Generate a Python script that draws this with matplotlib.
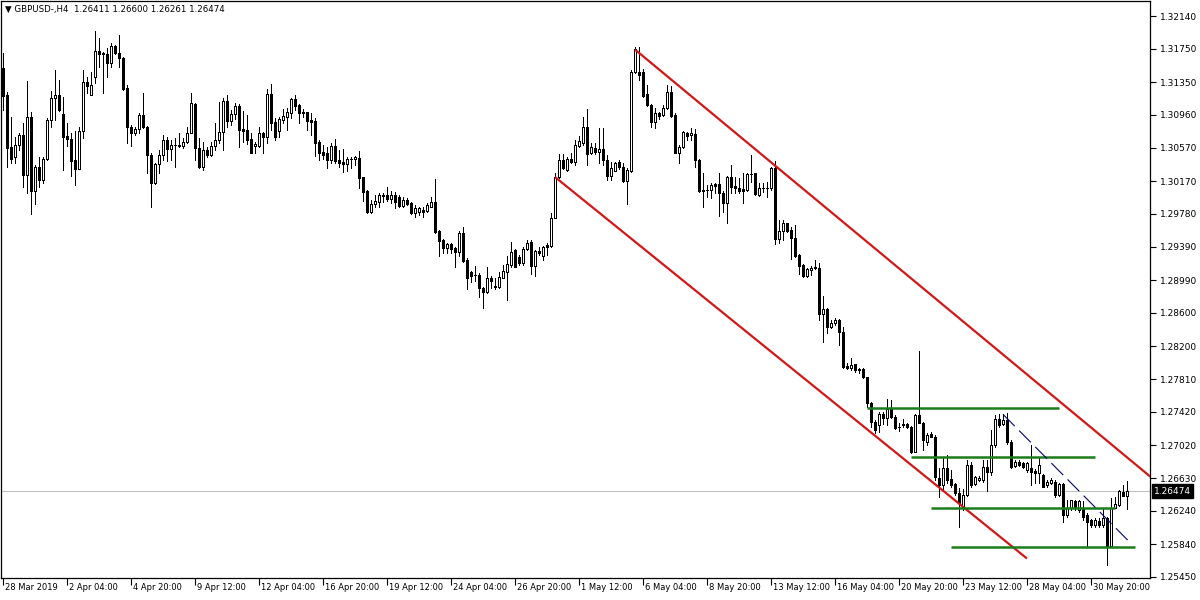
import matplotlib
matplotlib.use('Agg')
import matplotlib.pyplot as plt
import numpy as np
from matplotlib.transforms import blended_transform_factory, ScaledTranslation

plt.rcParams['font.family'] = ['DejaVu Sans']
plt.rcParams['lines.scale_dashes'] = False

title_text = "\u25BC GBPUSD-,H4  1.26411 1.26600 1.26261 1.26474"

opens = [1.3152, 1.3120, 1.3058, 1.3046, 1.3060, 1.3072, 1.3024, 1.3094, 1.3005, 1.3034,
         1.3018, 1.3043, 1.3090, 1.3116, 1.3120, 1.3097, 1.3071, 1.3067, 1.3042, 1.3032,
         1.3077, 1.3135, 1.3120, 1.3141, 1.3172, 1.3170, 1.3169, 1.3158, 1.3178, 1.3170,
         1.3164, 1.3128, 1.3082, 1.3074, 1.3079, 1.3096, 1.3082, 1.3048, 1.3015, 1.3037,
         1.3048, 1.3066, 1.3055, 1.3060, 1.3060, 1.3059, 1.3064, 1.3074, 1.3109, 1.3057,
         1.3034, 1.3054, 1.3048, 1.3059, 1.3066, 1.3076, 1.3113, 1.3089, 1.3097, 1.3107,
         1.3079, 1.3078, 1.3067, 1.3059, 1.3059, 1.3074, 1.3070, 1.3121, 1.3088, 1.3077,
         1.3090, 1.3094, 1.3098, 1.3115, 1.3108, 1.3099, 1.3099, 1.3090, 1.3089, 1.3064,
         1.3052, 1.3051, 1.3042, 1.3059, 1.3042, 1.3040, 1.3037, 1.3043, 1.3043, 1.3045,
         1.3022, 1.3005, 1.2980, 1.2990, 1.2992, 1.3001, 1.3001, 1.2996, 1.3001, 1.2998,
         1.2987, 1.2995, 1.2991, 1.2979, 1.2980, 1.2983, 1.2981, 1.2986, 1.2992, 1.2958,
         1.2947, 1.2937, 1.2942, 1.2937, 1.2933, 1.2955, 1.2923, 1.2909, 1.2905, 1.2905,
         1.2890, 1.2885, 1.2902, 1.2892, 1.2891, 1.2902, 1.2909, 1.2917, 1.2935, 1.2927,
         1.2920, 1.2936, 1.2945, 1.2916, 1.2934, 1.2928, 1.2941, 1.2940, 1.2973, 1.3022,
         1.3042, 1.3030, 1.3043, 1.3040, 1.3059, 1.3063, 1.3082, 1.3051, 1.3057, 1.3052,
         1.3055, 1.3042, 1.3023, 1.3029, 1.3040, 1.3034, 1.3017, 1.3029, 1.3147, 1.3147,
         1.3147, 1.3121, 1.3108, 1.3088, 1.3098, 1.3096, 1.3104, 1.3123, 1.3096, 1.3051,
         1.3058, 1.3074, 1.3072, 1.3073, 1.3042, 1.3007, 1.3007, 1.3007, 1.3014, 1.3014,
         1.3003, 1.2991, 1.3022, 1.3011, 1.3009, 1.3008, 1.3007, 1.3026, 1.3027, 1.3001,
         1.3009, 1.3009, 1.3009, 1.3033, 1.2948, 1.2958, 1.2967, 1.2959, 1.2949, 1.2929,
         1.2917, 1.2904, 1.2911, 1.2915, 1.2914, 1.2859, 1.2865, 1.2843, 1.2848, 1.2852,
         1.2837, 1.2797, 1.2794, 1.2799, 1.2792, 1.2793, 1.2784, 1.2753, 1.2730, 1.2726,
         1.2739, 1.2735, 1.2745, 1.2736, 1.2724, 1.2726, 1.2727, 1.2724, 1.2694, 1.2738,
         1.2729, 1.2706, 1.2716, 1.2712, 1.2663, 1.2655, 1.2675, 1.2662, 1.2656, 1.2645,
         1.2627, 1.2643, 1.2679, 1.2656, 1.2661, 1.2661, 1.2676, 1.2670, 1.2702, 1.2733,
         1.2727, 1.2732, 1.2706, 1.2677, 1.2682, 1.2681, 1.2673, 1.2675, 1.2671, 1.2669,
         1.2667, 1.2655, 1.2657, 1.2658, 1.2643, 1.2656, 1.2619, 1.2627, 1.2636, 1.2625,
         1.2627, 1.2619, 1.2613, 1.2607, 1.2612, 1.2607, 1.2615, 1.2582, 1.2627, 1.2631,
         1.2646, 1.26411]

highs = [1.3170, 1.3123, 1.3094, 1.3070, 1.3074, 1.3086, 1.3137, 1.3099, 1.3036, 1.3046,
         1.3046, 1.3092, 1.3125, 1.3150, 1.3138, 1.3117, 1.3086, 1.3074, 1.3077, 1.3082,
         1.3150, 1.3141, 1.3147, 1.3196, 1.3188, 1.3171, 1.3176, 1.3182, 1.3179, 1.3191,
         1.3165, 1.3132, 1.3084, 1.3082, 1.3098, 1.3122, 1.3083, 1.3051, 1.3039, 1.3054,
         1.3072, 1.3070, 1.3066, 1.3068, 1.3074, 1.3068, 1.3082, 1.3122, 1.3110, 1.3068,
         1.3064, 1.3058, 1.3064, 1.3086, 1.3111, 1.3116, 1.3120, 1.3102, 1.3110, 1.3109,
         1.3101, 1.3096, 1.3074, 1.3064, 1.3082, 1.3076, 1.3127, 1.3133, 1.3092, 1.3094,
         1.3103, 1.3104, 1.3116, 1.3120, 1.3109, 1.3103, 1.3099, 1.3098, 1.3092, 1.3066,
         1.3060, 1.3058, 1.3063, 1.3067, 1.3054, 1.3055, 1.3046, 1.3046, 1.3047, 1.3053,
         1.3022, 1.3007, 1.2995, 1.3001, 1.3003, 1.3003, 1.3010, 1.3005, 1.3004, 1.3001,
         1.2998, 1.2997, 1.2992, 1.2989, 1.2986, 1.2986, 1.2991, 1.2998, 1.3020, 1.2959,
         1.2948, 1.2943, 1.2943, 1.2939, 1.2958, 1.2962, 1.2925, 1.2910, 1.2916, 1.2908,
         1.2891, 1.2915, 1.2904, 1.2902, 1.2909, 1.2917, 1.2928, 1.2945, 1.2936, 1.2929,
         1.2939, 1.2947, 1.2947, 1.2935, 1.2939, 1.2940, 1.2943, 1.2979, 1.3027, 1.3049,
         1.3049, 1.3046, 1.3051, 1.3066, 1.3071, 1.3094, 1.3103, 1.3063, 1.3063, 1.3080,
         1.3080, 1.3048, 1.3040, 1.3040, 1.3042, 1.3039, 1.3033, 1.3150, 1.3177, 1.3177,
         1.3151, 1.3132, 1.3109, 1.3104, 1.3099, 1.3108, 1.3132, 1.3130, 1.3098, 1.3060,
         1.3077, 1.3076, 1.3080, 1.3079, 1.3043, 1.3027, 1.3013, 1.3015, 1.3015, 1.3027,
         1.3005, 1.3023, 1.3036, 1.3022, 1.3021, 1.3027, 1.3027, 1.3048, 1.3027, 1.3015,
         1.3015, 1.3016, 1.3034, 1.3041, 1.2971, 1.2971, 1.2967, 1.2962, 1.2965, 1.2930,
         1.2918, 1.2914, 1.2916, 1.2923, 1.2920, 1.2880, 1.2866, 1.2852, 1.2854, 1.2853,
         1.2843, 1.2800, 1.2806, 1.2799, 1.2794, 1.2794, 1.2784, 1.2754, 1.2732, 1.2742,
         1.2742, 1.2757, 1.2756, 1.2738, 1.2729, 1.2733, 1.2729, 1.2725, 1.2739, 1.2815,
         1.2730, 1.2717, 1.2718, 1.2714, 1.2675, 1.2687, 1.2690, 1.2673, 1.2657, 1.2651,
         1.2650, 1.2685, 1.2682, 1.2665, 1.2665, 1.2685, 1.2685, 1.2720, 1.2738, 1.2739,
         1.2739, 1.2741, 1.2708, 1.2685, 1.2685, 1.2682, 1.2682, 1.2702, 1.2674, 1.2688,
         1.2668, 1.2661, 1.2663, 1.2661, 1.2657, 1.2657, 1.2637, 1.2637, 1.2637, 1.2637,
         1.2636, 1.2621, 1.2614, 1.2615, 1.2615, 1.2627, 1.2617, 1.2639, 1.2640, 1.2649,
         1.2655, 1.26600]

lows = [1.3102, 1.3034, 1.3039, 1.3039, 1.3054, 1.3010, 1.3003, 1.2978, 1.2990, 1.3010,
        1.3015, 1.3042, 1.3082, 1.3090, 1.3101, 1.3030, 1.3059, 1.3023, 1.3013, 1.3032,
        1.3068, 1.3122, 1.3120, 1.3134, 1.3153, 1.3122, 1.3141, 1.3153, 1.3169, 1.3153,
        1.3126, 1.3063, 1.3059, 1.3072, 1.3074, 1.3080, 1.3027, 1.2986, 1.3014, 1.3027,
        1.3042, 1.3041, 1.3042, 1.3034, 1.3058, 1.3057, 1.3063, 1.3074, 1.3042, 1.3033,
        1.3030, 1.3046, 1.3047, 1.3054, 1.3063, 1.3054, 1.3082, 1.3084, 1.3091, 1.3058,
        1.3064, 1.3061, 1.3051, 1.3051, 1.3058, 1.3051, 1.3063, 1.3078, 1.3066, 1.3070,
        1.3086, 1.3078, 1.3092, 1.3102, 1.3086, 1.3094, 1.3078, 1.3072, 1.3047, 1.3042,
        1.3043, 1.3033, 1.3039, 1.3039, 1.3034, 1.3028, 1.3029, 1.3033, 1.3036, 1.3009,
        1.2993, 1.2979, 1.2979, 1.2986, 1.2986, 1.2992, 1.2993, 1.2991, 1.2985, 1.2986,
        1.2986, 1.2989, 1.2978, 1.2974, 1.2977, 1.2974, 1.2980, 1.2986, 1.2955, 1.2928,
        1.2931, 1.2931, 1.2931, 1.2915, 1.2928, 1.2921, 1.2888, 1.2897, 1.2898, 1.2879,
        1.2866, 1.2884, 1.2890, 1.2888, 1.2890, 1.2902, 1.2875, 1.2915, 1.2915, 1.2917,
        1.2917, 1.2935, 1.2906, 1.2904, 1.2929, 1.2923, 1.2929, 1.2939, 1.2973, 1.3021,
        1.3032, 1.3029, 1.3039, 1.3036, 1.3058, 1.3060, 1.3036, 1.3049, 1.3049, 1.3039,
        1.3036, 1.3018, 1.3018, 1.3029, 1.3032, 1.3016, 1.2990, 1.3028, 1.3146, 1.3138,
        1.3117, 1.3107, 1.3082, 1.3080, 1.3091, 1.3095, 1.3103, 1.3094, 1.3051, 1.3039,
        1.3057, 1.3066, 1.3066, 1.3034, 1.3004, 1.2986, 1.2998, 1.2997, 1.3003, 1.2976,
        1.2980, 1.2967, 1.3003, 1.3003, 1.3003, 1.2991, 1.3005, 1.3016, 1.3001, 1.2999,
        1.3004, 1.2998, 1.3007, 1.2942, 1.2943, 1.2947, 1.2956, 1.2924, 1.2927, 1.2906,
        1.2903, 1.2903, 1.2905, 1.2912, 1.2852, 1.2825, 1.2836, 1.2842, 1.2846, 1.2822,
        1.2794, 1.2793, 1.2792, 1.2790, 1.2788, 1.2782, 1.2748, 1.2724, 1.2717, 1.2718,
        1.2727, 1.2726, 1.2735, 1.2722, 1.2719, 1.2724, 1.2723, 1.2693, 1.2694, 1.2729,
        1.2697, 1.2702, 1.2712, 1.2661, 1.2640, 1.2649, 1.2657, 1.2652, 1.2643, 1.2605,
        1.2625, 1.2642, 1.2652, 1.2655, 1.2660, 1.2658, 1.2648, 1.2667, 1.2700, 1.2724,
        1.2726, 1.2704, 1.2675, 1.2676, 1.2677, 1.2675, 1.2670, 1.2655, 1.2657, 1.2657,
        1.2652, 1.2652, 1.2656, 1.2640, 1.2642, 1.2611, 1.2617, 1.2625, 1.2625, 1.2623,
        1.2613, 1.2581, 1.2605, 1.2605, 1.2605, 1.2605, 1.2559, 1.2581, 1.2627, 1.2630,
        1.2641, 1.26261]

closes = [1.3119, 1.3057, 1.3043, 1.3060, 1.3072, 1.3024, 1.3094, 1.3005, 1.3034, 1.3018,
          1.3043, 1.3090, 1.3116, 1.3120, 1.3102, 1.3070, 1.3067, 1.3041, 1.3032, 1.3077,
          1.3135, 1.3130, 1.3132, 1.3172, 1.3169, 1.3169, 1.3158, 1.3178, 1.3170, 1.3164,
          1.3127, 1.3082, 1.3074, 1.3079, 1.3096, 1.3082, 1.3048, 1.3015, 1.3037, 1.3048,
          1.3066, 1.3055, 1.3060, 1.3060, 1.3059, 1.3064, 1.3074, 1.3110, 1.3057, 1.3034,
          1.3054, 1.3048, 1.3059, 1.3066, 1.3076, 1.3113, 1.3089, 1.3097, 1.3107, 1.3078,
          1.3077, 1.3066, 1.3051, 1.3061, 1.3074, 1.3070, 1.3121, 1.3086, 1.3070, 1.3091,
          1.3095, 1.3099, 1.3115, 1.3107, 1.3098, 1.3098, 1.3089, 1.3088, 1.3063, 1.3051,
          1.3048, 1.3042, 1.3059, 1.3041, 1.3039, 1.3037, 1.3043, 1.3043, 1.3046, 1.3021,
          1.3004, 1.2980, 1.2990, 1.2993, 1.3001, 1.2999, 1.2996, 1.3001, 1.2992, 1.2987,
          1.2995, 1.2990, 1.2979, 1.2985, 1.2985, 1.2980, 1.2989, 1.2992, 1.2956, 1.2946,
          1.2937, 1.2942, 1.2936, 1.2933, 1.2955, 1.2922, 1.2902, 1.2904, 1.2905, 1.2890,
          1.2885, 1.2902, 1.2898, 1.2891, 1.2903, 1.2910, 1.2918, 1.2933, 1.2915, 1.2920,
          1.2936, 1.2943, 1.2916, 1.2934, 1.2931, 1.2939, 1.2939, 1.2973, 1.3022, 1.3042,
          1.3033, 1.3043, 1.3040, 1.3060, 1.3065, 1.3082, 1.3049, 1.3058, 1.3052, 1.3055,
          1.3042, 1.3023, 1.3033, 1.3039, 1.3034, 1.3017, 1.3030, 1.3147, 1.3175, 1.3144,
          1.3119, 1.3108, 1.3088, 1.3098, 1.3095, 1.3104, 1.3123, 1.3095, 1.3051, 1.3058,
          1.3076, 1.3071, 1.3074, 1.3042, 1.3005, 1.3005, 1.3007, 1.3013, 1.3011, 1.3003,
          1.2991, 1.3022, 1.3010, 1.3009, 1.3005, 1.3005, 1.3026, 1.3026, 1.3002, 1.3009,
          1.3009, 1.3009, 1.3033, 1.2948, 1.2958, 1.2967, 1.2958, 1.2949, 1.2928, 1.2916,
          1.2904, 1.2912, 1.2914, 1.2914, 1.2859, 1.2865, 1.2843, 1.2848, 1.2852, 1.2837,
          1.2795, 1.2794, 1.2798, 1.2792, 1.2793, 1.2784, 1.2753, 1.2730, 1.2720, 1.2739,
          1.2735, 1.2745, 1.2736, 1.2723, 1.2724, 1.2727, 1.2724, 1.2694, 1.2738, 1.2729,
          1.2708, 1.2714, 1.2712, 1.2664, 1.2655, 1.2675, 1.2661, 1.2655, 1.2645, 1.2633,
          1.2643, 1.2679, 1.2655, 1.2664, 1.2663, 1.2676, 1.2670, 1.2702, 1.2733, 1.2726,
          1.2732, 1.2706, 1.2676, 1.2682, 1.2679, 1.2676, 1.2681, 1.2670, 1.2669, 1.2679,
          1.2652, 1.2658, 1.2661, 1.2643, 1.2656, 1.2619, 1.2627, 1.2637, 1.2627, 1.2636,
          1.2617, 1.2611, 1.2607, 1.2613, 1.2607, 1.2615, 1.2582, 1.2627, 1.2632, 1.2648,
          1.2641, 1.26474]

bid_price = 1.26474

# time axis: one label every 16 H4 bars
time_labels = ["28 Mar 2019", "2 Apr 04:00", "4 Apr 20:00", "9 Apr 12:00", "12 Apr 04:00",
               "16 Apr 20:00", "19 Apr 12:00", "24 Apr 04:00", "26 Apr 20:00", "1 May 12:00",
               "6 May 04:00", "8 May 20:00", "13 May 12:00", "16 May 04:00", "20 May 20:00",
               "23 May 12:00", "28 May 04:00", "30 May 20:00"]
label_step = 16

price_ticks = [1.32140, 1.31750, 1.31350, 1.30960, 1.30570, 1.30170, 1.29780, 1.29390,
               1.28990, 1.28600, 1.28200, 1.27810, 1.27420, 1.27020, 1.26630, 1.26240,
               1.25840, 1.25450]

# analyst drawings (bar index, price)
channel_upper = [(158, 1.3174), (287, 1.2664)]
channel_lower = [(138, 1.3022), (256, 1.2567)]
levels = [(216, 264, 1.2747), (227, 273, 1.2688), (232, 278, 1.2627), (237, 283, 1.2581)]
dotted_trend = [(250, 1.2739), (282, 1.2585)]

# ---------------------------------------------------------------
fig = plt.figure(figsize=(12, 6), dpi=100)
fig.patch.set_facecolor('white')
ax = fig.add_axes([1 / 1200, 22 / 600, 1149 / 1200, 577 / 600])
ax.set_facecolor('white')

o = np.array(opens); h = np.array(highs); l = np.array(lows); c = np.array(closes)
x = np.arange(len(o))

ax.axhline(bid_price, color='#C0C0C0', lw=0.75, zorder=1)

ax.vlines(x, l, h, color='black', lw=0.72, zorder=2, antialiased=False)
bull = c > o
bear = c < o
doji = c == o
ax.bar(x[bull], (c - o)[bull], bottom=o[bull], width=0.5, facecolor='white',
       edgecolor='black', linewidth=0.72, zorder=3, antialiased=False)
ax.bar(x[bear], (o - c)[bear], bottom=c[bear], width=0.5, facecolor='black',
       edgecolor='black', linewidth=0.72, zorder=3, antialiased=False)
ax.hlines(o[doji], x[doji] - 0.35, x[doji] + 0.35, color='black', lw=0.72, zorder=3,
          antialiased=False)

red = '#D01818'
green = '#1B7D1B'
(x0, y0), (x1, y1) = channel_upper
ax.plot([x0, x1], [y0, y1], color=red, lw=1.6, zorder=4, solid_capstyle='butt')
(x0, y0), (x1, y1) = channel_lower
ax.plot([x0, x1], [y0, y1], color=red, lw=1.6, zorder=4, solid_capstyle='butt')
for xa, xb, lv in levels:
    ax.plot([xa, xb], [lv, lv], color=green, lw=1.8, zorder=4, solid_capstyle='butt')
(x0, y0), (x1, y1) = dotted_trend
ax.plot([x0, x1], [y0, y1], color='#000080', lw=0.8, zorder=4, dashes=(12, 4.5))

ax.set_xlim(-0.5, 286.75)
ax.set_ylim(1.25438, 1.32319)

for s in ax.spines.values():
    s.set_linewidth(0.9)
    s.set_color('black')

# right price axis
ax.yaxis.tick_right()
ax.set_yticks(price_ticks)
ax.set_yticklabels([f"{p:.5f}" for p in price_ticks])
ax.tick_params(axis='y', which='both', direction='out', length=4, width=0.8,
               labelsize=6.5, pad=3, colors='black', left=False, right=True)

# bottom time axis
ticks_x = [i * label_step for i in range(len(time_labels))]
ax.set_xticks(ticks_x)
ax.set_xticklabels([])
ax.tick_params(axis='x', direction='out', length=5, width=0.8, bottom=True, top=False)
tr = blended_transform_factory(ax.transData, ax.transAxes)
off = ScaledTranslation(2 / 100, -5 / 100, fig.dpi_scale_trans)
for tx, lab in zip(ticks_x, time_labels):
    ax.text(tx, 0, lab, transform=tr + off, ha='left', va='top', fontsize=6.0,
            color='black', clip_on=False)

# bid label
trb = blended_transform_factory(ax.transAxes, ax.transData)
ax.text(1.0, bid_price, "1.26474", transform=trb + ScaledTranslation(4 / 100, 0, fig.dpi_scale_trans),
        ha='left', va='center', fontsize=6.5, color='white', clip_on=False,
        bbox=dict(boxstyle='square,pad=0.25', fc='black', ec='black'))

fig.text(5 / 1200, 1 - 9 / 600, title_text, ha='left', va='center', fontsize=6.2, color='black')

fig.savefig('out.png', dpi=100, facecolor='white')
